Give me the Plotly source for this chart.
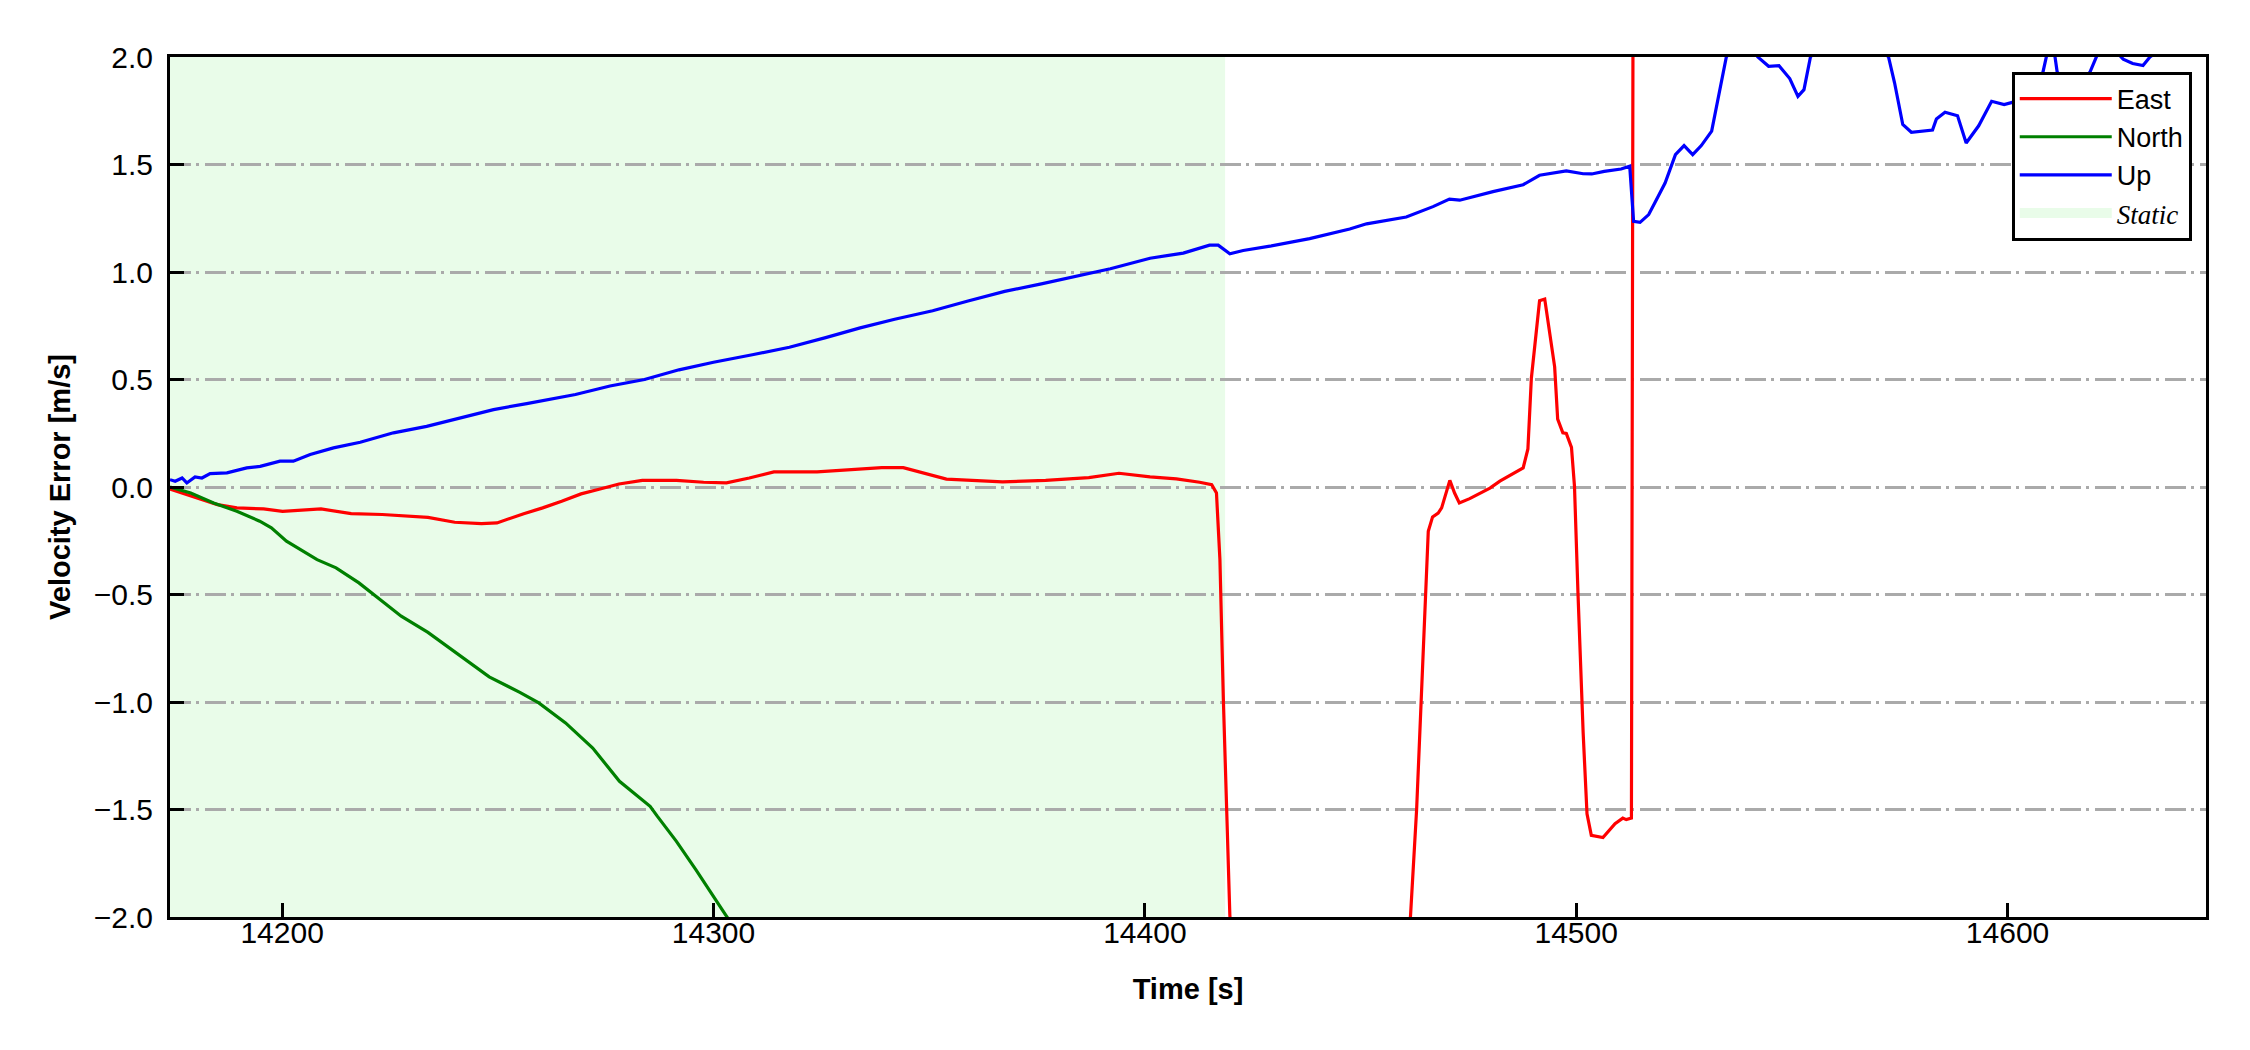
import plotly.graph_objects as go

# ---------------- data ----------------
time_east = [14174.0, 14180.6, 14185.0, 14189.5, 14195.7, 14200.1, 14204.5, 14209.0, 14216.0, 14223.2,
             14233.8, 14240.0, 14246.2, 14249.8, 14256.0, 14260.4, 14264.8, 14269.3, 14273.7, 14278.1,
             14283.5, 14291.4, 14297.7, 14303.0, 14308.3, 14314.0, 14324.0, 14334.0, 14339.0, 14344.0,
             14350.0, 14354.0, 14367.0, 14377.0, 14387.0, 14394.0, 14401.2, 14407.3, 14412.7, 14415.5,
             14416.6, 14417.4, 14418.2, 14419.7, 14421.0, 14440.0, 14460.5, 14461.6, 14463.0, 14464.1,
             14465.1, 14465.7, 14466.7, 14468.0, 14468.8, 14470.7, 14471.8, 14472.9, 14475.3, 14477.6,
             14480.0, 14482.3, 14484.6, 14487.7, 14488.8, 14489.6, 14491.5, 14492.7, 14495.0, 14495.7,
             14496.9, 14497.7, 14498.9, 14499.6, 14500.4, 14501.6, 14502.5, 14503.5, 14506.2, 14507.8,
             14509.0, 14510.8, 14511.6, 14512.8, 14513.2, 14530.0, 14600.0, 14646.0]
east = [-0.010, -0.051, -0.082, -0.097, -0.102, -0.113, -0.108, -0.102, -0.124, -0.128,
        -0.141, -0.164, -0.170, -0.167, -0.124, -0.097, -0.066, -0.032, -0.009, 0.014,
        0.031, 0.031, 0.022, 0.019, 0.042, 0.070, 0.070, 0.084, 0.090, 0.090,
        0.060, 0.037, 0.024, 0.031, 0.044, 0.064, 0.047, 0.038, 0.022, 0.011,
        -0.028, -0.338, -0.990, -1.990, -2.400, -2.800, -2.300, -1.990, -1.500, -0.990,
        -0.490, -0.206, -0.139, -0.121, -0.097, 0.031, -0.028, -0.074, -0.054, -0.031,
        -0.005, 0.027, 0.053, 0.089, 0.177, 0.506, 0.866, 0.874, 0.559, 0.316,
        0.252, 0.249, 0.184, 0.003, -0.490, -1.140, -1.520, -1.620, -1.630, -1.590,
        -1.566, -1.540, -1.547, -1.540, 2.500, 3.000, 3.000, 3.000]

time_north = [14174.0, 14178.8, 14184.1, 14189.5, 14194.8, 14197.5, 14201.0, 14208.1, 14212.5, 14217.8,
              14223.2, 14227.6, 14233.8, 14241.8, 14248.0, 14255.1, 14259.5, 14265.7, 14272.0, 14278.2,
              14285.3, 14287.0, 14291.4, 14295.9, 14299.4, 14302.8, 14320.0, 14400.0, 14646.0]
north = [0.000, -0.028, -0.074, -0.113, -0.159, -0.190, -0.252, -0.338, -0.376, -0.446,
         -0.531, -0.601, -0.676, -0.795, -0.883, -0.955, -1.004, -1.097, -1.214, -1.369,
         -1.485, -1.532, -1.648, -1.780, -1.888, -1.990, -2.500, -4.000, -8.000]

time_up = [14174.0, 14175.2, 14176.8, 14177.9, 14179.8, 14181.4, 14183.3, 14187.2, 14191.8, 14194.9,
           14199.5, 14202.6, 14206.5, 14211.9, 14218.1, 14225.8, 14233.5, 14241.3, 14249.0, 14256.7,
           14262.1, 14268.0, 14276.0, 14284.0, 14292.0, 14300.0, 14309.0, 14317.6, 14326.0, 14334.0,
           14342.0, 14350.8, 14359.0, 14367.5, 14376.0, 14384.0, 14392.0, 14401.2, 14408.9, 14415.0,
           14417.0, 14419.7, 14422.8, 14429.0, 14438.2, 14447.5, 14451.4, 14460.6, 14466.8, 14470.6,
           14473.0, 14480.7, 14487.7, 14491.5, 14494.5, 14497.7, 14501.6, 14503.6, 14506.5, 14510.4,
           14512.4, 14513.3, 14514.8, 14516.8, 14518.2, 14520.6, 14523.0, 14525.0, 14527.0, 14529.0,
           14531.4, 14534.8, 14538.5, 14542.1, 14544.6, 14547.0, 14549.5, 14551.4, 14552.8, 14554.3,
           14563.0, 14572.4, 14573.8, 14575.7, 14577.7, 14582.6, 14583.5, 14585.5, 14588.4, 14590.4,
           14593.3, 14596.3, 14599.2, 14601.3, 14605.0, 14608.2, 14609.2, 14610.0, 14611.0, 14611.5,
           14615.0, 14619.1, 14621.0, 14624.0, 14626.8, 14629.0, 14631.4, 14633.0, 14640.0, 14646.0]
up = [0.034, 0.027, 0.042, 0.019, 0.047, 0.042, 0.062, 0.066, 0.089, 0.096,
      0.120, 0.120, 0.151, 0.182, 0.208, 0.252, 0.282, 0.321, 0.360, 0.388,
      0.407, 0.430, 0.470, 0.500, 0.545, 0.580, 0.615, 0.650, 0.695, 0.740,
      0.780, 0.820, 0.865, 0.910, 0.945, 0.980, 1.015, 1.064, 1.088, 1.125,
      1.125, 1.085, 1.100, 1.120, 1.155, 1.200, 1.224, 1.256, 1.304, 1.339,
      1.334, 1.374, 1.406, 1.450, 1.458, 1.470, 1.457, 1.456, 1.468, 1.479,
      1.492, 1.236, 1.231, 1.267, 1.321, 1.414, 1.546, 1.588, 1.546, 1.588,
      1.655, 2.000, 2.100, 2.000, 1.957, 1.960, 1.900, 1.817, 1.848, 2.000,
      2.200, 2.000, 1.880, 1.686, 1.650, 1.660, 1.712, 1.743, 1.727, 1.600,
      1.680, 1.794, 1.779, 1.790, 1.820, 1.930, 2.020, 2.050, 2.000, 1.930,
      1.850, 1.930, 2.020, 2.050, 1.990, 1.970, 1.960, 2.000, 2.100, 2.100]

static_start = 14174.0
static_end = 14418.6

x_range = [14174.0, 14646.0]
y_range = [-2.0, 2.0]
x_ticks = [14200, 14300, 14400, 14500, 14600]
y_ticks = [-2.0, -1.5, -1.0, -0.5, 0.0, 0.5, 1.0, 1.5, 2.0]

FONT = "Arial, Liberation Sans, sans-serif"
STATIC_COLOR = "#e9fce9"

fig = go.Figure()
fig.add_trace(go.Scatter(x=time_east, y=east, mode="lines", name="East",
                         line=dict(color="#ff0000", width=3.2)))
fig.add_trace(go.Scatter(x=time_north, y=north, mode="lines", name="North",
                         line=dict(color="#008000", width=3.2)))
fig.add_trace(go.Scatter(x=time_up, y=up, mode="lines", name="Up",
                         line=dict(color="#0000ff", width=3.2)))
# legend entry for the static interval
fig.add_trace(go.Scatter(x=[None], y=[None], mode="lines",
                         line=dict(color=STATIC_COLOR, width=19),
                         name="<span style='font-family:Liberation Serif, Times New Roman, serif'><i>Static</i></span>"))

fig.add_shape(type="rect", xref="x", yref="paper", x0=static_start, x1=static_end,
              y0=0, y1=1, fillcolor=STATIC_COLOR, line=dict(width=0), layer="below")

fig.update_layout(
    width=2250, height=1050,
    margin=dict(l=162, r=52, t=49, b=141),
    paper_bgcolor="white", plot_bgcolor="white",
    font=dict(family=FONT, size=30, color="black"),
    showlegend=True,
    legend=dict(x=0.993, xanchor="right", y=0.983, yanchor="top",
                bgcolor="white", bordercolor="black", borderwidth=3,
                font=dict(family=FONT, size=27, color="black"),
                tracegroupgap=0, itemwidth=92),
)
fig.update_xaxes(range=x_range, tickvals=x_ticks, tickformat="d",
                 showgrid=False, zeroline=False,
                 showline=True, linecolor="black", linewidth=3, mirror=True,
                 ticks="inside", ticklen=14, tickwidth=3, tickcolor="black",
                 tickfont=dict(size=30), ticklabelstandoff=-13,
                 title=dict(text="Time [s]", font=dict(size=29, weight="bold"), standoff=31))
fig.update_yaxes(range=y_range, tickvals=y_ticks, tickformat=".1f",
                 showgrid=True, gridcolor="#aaaaaa", gridwidth=2.5, griddash="21px,5px,3px,6px",
                 zeroline=False,
                 showline=True, linecolor="black", linewidth=3, mirror=True,
                 ticks="inside", ticklen=14, tickwidth=3, tickcolor="black",
                 tickfont=dict(size=30), ticklabelstandoff=8,
                 title=dict(text="Velocity Error [m/s]", font=dict(size=29, weight="bold"), standoff=15))

fig.write_html("out.html")
